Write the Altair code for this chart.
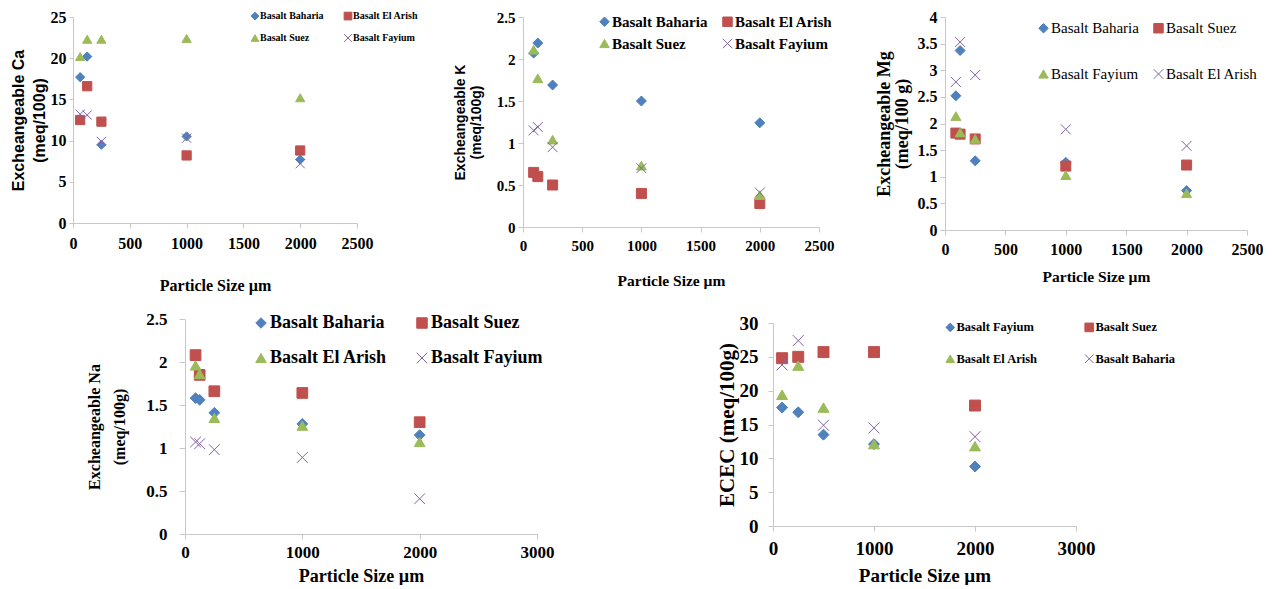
import altair as alt
import pandas as pd

# ---------------- data ----------------
# Panel 1: Exchangeable Ca
ca_x = [63, 125, 250, 1000, 2000]
ca_names = ["Basalt Baharia", "Basalt El Arish", "Basalt Suez", "Basalt Fayium"]
ca_baharia = [17.7, 20.2, 9.5, 10.5, 7.7]
ca_el_arish = [12.5, 16.6, 12.3, 8.2, 8.8]
ca_suez = [20.2, 22.3, 22.3, 22.4, 15.2]
ca_fayium = [13.2, 13.1, 9.9, 10.3, 7.2]

# Panel 2: Exchangeable K
k_x = [90, 125, 250, 1000, 2000]
k_names = ["Basalt Baharia", "Basalt El Arish", "Basalt Suez", "Basalt Fayium"]
k_baharia = [2.07, 2.19, 1.69, 1.50, 1.24]
k_el_arish = [0.65, 0.60, 0.50, 0.40, 0.28]
k_suez = [2.11, 1.77, 1.04, 0.73, 0.38]
k_fayium = [1.15, 1.19, 0.95, 0.70, 0.41]

# Panel 3: Exchangeable Mg
mg_x = [90, 125, 250, 1000, 2000]
mg_names = ["Basalt Baharia", "Basalt Suez", "Basalt Fayium", "Basalt El Arish"]
mg_baharia = [2.52, 3.37, 1.30, 1.27, 0.74]
mg_suez = [1.82, 1.80, 1.71, 1.20, 1.22]
mg_fayium = [2.14, 1.83, 1.71, 1.03, 0.69]
mg_el_arish = [2.78, 3.53, 2.91, 1.89, 1.58]

# Panel 4: Exchangeable Na
na_x = [90, 125, 250, 1000, 2000]
na_names = ["Basalt Baharia", "Basalt Suez", "Basalt El Arish", "Basalt Fayium"]
na_baharia = [1.58, 1.56, 1.41, 1.28, 1.15]
na_suez = [2.08, 1.85, 1.66, 1.64, 1.30]
na_el_arish = [1.96, 1.86, 1.35, 1.26, 1.07]
na_fayium = [1.07, 1.05, 0.98, 0.89, 0.41]

# Panel 5: ECEC
ec_x = [90, 250, 500, 1000, 2000]
ec_names = ["Basalt Fayium", "Basalt Suez", "Basalt El Arish", "Basalt Baharia"]
ec_fayium = [17.5, 16.8, 13.5, 12.1, 8.8]
ec_suez = [24.8, 25.0, 25.7, 25.7, 17.8]
ec_el_arish = [19.4, 23.7, 17.5, 12.1, 11.8]
ec_baharia = [23.8, 27.4, 14.9, 14.5, 13.2]

# ---------------- styling ----------------
COLORS = ["#4F81BD", "#C0504D", "#9BBB59", "#8064A2"]
X_PATH = "M-1,-1L1,1M-1,1L1,-1"
SHAPES = ["diamond", "square", "triangle-up", X_PATH]
AX = "#C8C8C8"
SERIF = "Liberation Serif"
SANS = "Liberation Sans"
XTITLE = "Particle Size µm"
IND = dict(fill="independent", stroke="independent", shape="independent")


def make_panel(x_vals, names, series_vals, *, width, height, xmax, xstep,
               ymax, ystep, ytitle, ytitle_font, ytitle_size, ytitle_lh,
               ytitle_pad, tick_font_size, ylabel_pad, ytick,
               xtitle_size, xlabel_pad, xtitle_pad,
               leg_x, leg_y, leg_font_size, leg_weight, leg_col_pad,
               leg_row_pad, leg_sym, marker_size):
    rows = []
    for name, vals in zip(names, series_vals):
        for xv, yv in zip(x_vals, vals):
            rows.append({"size": xv, "value": yv, "series": name})
    df = pd.DataFrame(rows)

    n_y = int(round(ymax / ystep))
    y_values = [round(i * ystep, 3) for i in range(n_y + 1)]
    x_values = list(range(0, xmax + 1, xstep))

    legend = alt.Legend(
        title=None, orient="none", legendX=leg_x, legendY=leg_y,
        direction="horizontal", columns=2,
        padding=0, labelFont=SERIF, labelFontSize=leg_font_size,
        labelFontWeight=leg_weight, labelColor="black",
        columnPadding=leg_col_pad, rowPadding=leg_row_pad,
        symbolSize=leg_sym, symbolStrokeWidth=1, labelOffset=0,
        labelLimit=400,
    )

    x_axis = alt.Axis(
        values=x_values, labelExpr="datum.value + ''", grid=False,
        domainColor=AX, tickColor=AX, tickSize=5, labelFont=SERIF,
        labelFontWeight="bold", labelFontSize=tick_font_size,
        labelColor="black", labelPadding=xlabel_pad, labelFlush=False,
        labelOverlap=False, title=XTITLE, titleFont=SERIF,
        titleFontWeight="bold", titleFontSize=xtitle_size,
        titleColor="black", titlePadding=xtitle_pad,
    )
    y_axis = alt.Axis(
        values=y_values, labelExpr="datum.value + ''", grid=False,
        domainColor=AX, tickColor=AX, tickSize=ytick, labelFont=SERIF,
        labelFontWeight="bold", labelFontSize=tick_font_size,
        labelColor="black", labelPadding=ylabel_pad, labelFlush=False,
        labelOverlap=False, title=ytitle, titleFont=ytitle_font,
        titleFontWeight="bold", titleFontSize=ytitle_size,
        titleColor="black", titlePadding=ytitle_pad,
        titleLineHeight=ytitle_lh,
    )

    return alt.Chart(df).mark_point(
        filled=True, opacity=1, strokeWidth=1, size=marker_size
    ).encode(
        x=alt.X("size:Q", scale=alt.Scale(domain=[0, xmax], nice=False), axis=x_axis),
        y=alt.Y("value:Q", scale=alt.Scale(domain=[0, ymax], nice=False), axis=y_axis),
        fill=alt.Fill("series:N", scale=alt.Scale(domain=names, range=COLORS), legend=legend),
        stroke=alt.Stroke("series:N", scale=alt.Scale(domain=names, range=COLORS), legend=legend),
        shape=alt.Shape("series:N", scale=alt.Scale(domain=names, range=SHAPES), legend=legend),
    ).properties(width=width, height=height)


def spacer(w, h=1):
    return alt.Chart(pd.DataFrame({"v": [0]})).mark_rect(opacity=0).encode(
        x=alt.value(0), x2=alt.value(w), y=alt.value(0), y2=alt.value(h)
    ).properties(width=w, height=h)


p1 = make_panel(ca_x, ca_names, [ca_baharia, ca_el_arish, ca_suez, ca_fayium],
                width=284, height=206, xmax=2500, xstep=500, ymax=25, ystep=5,
                ytitle=["Excheangeable Ca", "(meq/100g)"], ytitle_font=SANS,
                ytitle_size=16, ytitle_lh=21, ytitle_pad=3, tick_font_size=16,
                ylabel_pad=3, ytick=4, xtitle_size=16, xlabel_pad=7, xtitle_pad=26,
                leg_x=177, leg_y=-6, leg_font_size=10, leg_weight="bold",
                leg_col_pad=18, leg_row_pad=10, leg_sym=60, marker_size=85)

p2 = make_panel(k_x, k_names, [k_baharia, k_el_arish, k_suez, k_fayium],
                width=296, height=210, xmax=2500, xstep=500, ymax=2.5, ystep=0.5,
                ytitle=["Excheangeable K", "(meq/100g)"], ytitle_font=SANS,
                ytitle_size=14, ytitle_lh=16, ytitle_pad=13, tick_font_size=15,
                ylabel_pad=3, ytick=5, xtitle_size=15.5, xlabel_pad=6, xtitle_pad=20,
                leg_x=74, leg_y=-3, leg_font_size=15, leg_weight="bold",
                leg_col_pad=12, leg_row_pad=6, leg_sym=90, marker_size=100)

p3 = make_panel(mg_x, mg_names, [mg_baharia, mg_suez, mg_fayium, mg_el_arish],
                width=302, height=213, xmax=2500, xstep=500, ymax=4, ystep=0.5,
                ytitle=["Excheangeable Mg", "(meq/100 g)"], ytitle_font=SERIF,
                ytitle_size=18, ytitle_lh=17.5, ytitle_pad=6, tick_font_size=16,
                ylabel_pad=3, ytick=5, xtitle_size=15.5, xlabel_pad=6, xtitle_pad=12,
                leg_x=91, leg_y=3.5, leg_font_size=15, leg_weight="normal",
                leg_col_pad=12, leg_row_pad=30, leg_sym=90, marker_size=100)

p4 = make_panel(na_x, na_names, [na_baharia, na_suez, na_el_arish, na_fayium],
                width=352, height=215, xmax=3000, xstep=1000, ymax=2.5, ystep=0.5,
                ytitle=["Excheangeable Na", "(meq/100g)"], ytitle_font=SERIF,
                ytitle_size=16, ytitle_lh=25, ytitle_pad=18, tick_font_size=17,
                ylabel_pad=12, ytick=6, xtitle_size=18, xlabel_pad=5, xtitle_pad=7,
                leg_x=67, leg_y=-5, leg_font_size=18, leg_weight="bold",
                leg_col_pad=25, leg_row_pad=17, leg_sym=110, marker_size=115)

p5 = make_panel(ec_x, ec_names, [ec_fayium, ec_suez, ec_el_arish, ec_baharia],
                width=303, height=203, xmax=3000, xstep=1000, ymax=30, ystep=5,
                ytitle="ECEC (meq/100g)", ytitle_font=SERIF,
                ytitle_size=21, ytitle_lh=21, ytitle_pad=2, tick_font_size=19,
                ylabel_pad=10, ytick=5, xtitle_size=19, xlabel_pad=8, xtitle_pad=8,
                leg_x=171, leg_y=-2, leg_font_size=12.5, leg_weight="bold",
                leg_col_pad=44, leg_row_pad=17.5, leg_sym=75, marker_size=120)

p5_col = alt.vconcat(spacer(303, 4), p5, spacing=0, bounds="flush"
                     ).resolve_scale(**IND).resolve_legend(**IND)

row1 = alt.hconcat(
    spacer(73), p1, spacer(166), p2, spacer(126), p3,
    spacing=0, bounds="flush",
).resolve_scale(**IND).resolve_legend(**IND)

row2 = alt.hconcat(
    spacer(185), p4, spacer(236), p5_col,
    spacing=0, bounds="flush",
).resolve_scale(**IND).resolve_legend(**IND)

chart = alt.vconcat(
    row1, row2, spacing=17,
    padding={"left": 0, "top": 9, "right": 0, "bottom": 0},
).resolve_scale(**IND).resolve_legend(**IND)

chart = chart.configure(font=SERIF, background="white").configure_view(stroke=None)

chart.save("out.html", embed_options={"renderer": "svg", "actions": False})
